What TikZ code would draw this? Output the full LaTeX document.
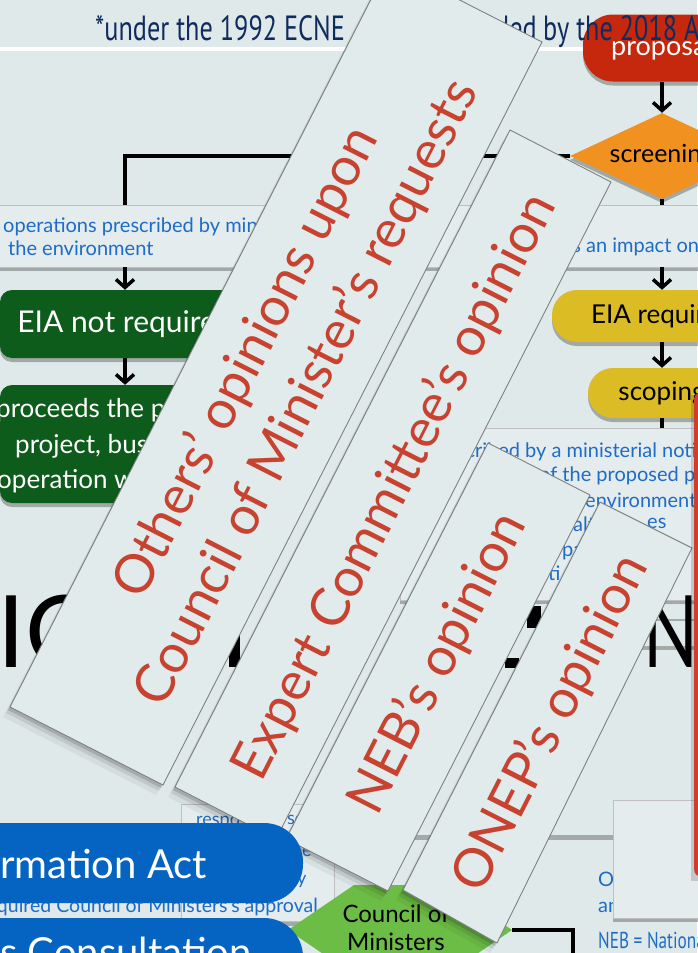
\documentclass[tikz,border=0pt]{standalone}
\usepackage{fontspec}
\setmainfont{Lato}
\newfontfamily\condfont[FakeStretch=0.75]{PT Sans}
\usetikzlibrary{arrows.meta,shapes.geometric,shadows}
\definecolor{bgc}{RGB}{224,233,234}
\definecolor{cardc}{RGB}{226,235,236}
\definecolor{cardedge}{RGB}{125,130,130}
\definecolor{cardtxt}{RGB}{200,66,48}
\definecolor{navy}{RGB}{16,44,94}
\definecolor{propred}{RGB}{197,40,12}
\definecolor{scrorange}{RGB}{241,145,32}
\definecolor{dkgreen}{RGB}{14,92,28}
\definecolor{yel}{RGB}{219,188,36}
\definecolor{bluetxt}{RGB}{30,108,198}
\definecolor{pillblue}{RGB}{5,99,193}
\definecolor{hexgreen}{RGB}{108,189,69}
\definecolor{redbar}{RGB}{205,62,44}
\definecolor{boxc}{RGB}{228,236,237}
\definecolor{grayline}{RGB}{165,170,169}
\newcommand{\drawcard}[4]{%
  \foreach \dx/\dy/\op in {-2/3/0.14,-4/6/0.09,-7/10/0.05}{%
    \fill[black,opacity=\op,shift={(\dx,\dy)}] #1 -- #2 -- #3 -- #4 -- cycle;}
  \path[cardfill] #1 -- #2 -- #3 -- #4 -- cycle;}
\begin{document}
\begin{tikzpicture}[x=1pt,y=-1pt,
  myshadow/.style={drop shadow={shadow xshift=0pt,shadow yshift=-4pt,opacity=0.28,fill=black}},
  arr/.style={line width=3.5pt,-{Straight Barb[length=8pt,width=18pt,line width=3.5pt]}},
  conn/.style={line width=4pt},
  cardfill/.style={fill=cardc,draw=cardedge,line width=0.9pt,line join=round},
  cardtext/.style={text=cardtxt,font=\fontsize{53.5}{68}\selectfont,rotate=63,align=center,inner sep=0pt},
  bluetext/.style={text=bluetxt,font=\fontsize{20}{25}\selectfont,inner sep=0pt,anchor=base west},
  txtbox/.style={fill=boxc,draw=black!25,line width=0.6pt,myshadow},
  gbox/.style={fill=dkgreen,rounded corners=12pt,text=white,inner sep=0pt,myshadow},
  ybox/.style={fill=yel,rounded corners=25pt,text=black,inner sep=0pt,font=\fontsize{26}{26}\selectfont,myshadow},
  gtext/.style={text=white,font=\fontsize{26}{26}\selectfont,inner sep=0pt,anchor=base west},
  pill/.style={fill=pillblue,rounded corners=39pt,inner sep=0pt},
  pilltext/.style={text=white,font=\fontsize{40}{40}\selectfont,inner sep=0pt,anchor=base west},
  bigtext/.style={text=black,font=\fontsize{100}{100}\selectfont,inner sep=0pt,anchor=base west},
  titletext/.style={text=navy,font=\condfont\fontsize{35}{35}\selectfont,inner sep=0pt}
]
% background
\fill[bgc] (0,0) rectangle (697,953);
\useasboundingbox (0,0) rectangle (697,953);

% white rule under the title
\draw[white,line width=4.5pt] (-5,49) coordinate (ruleL) -- (600,49) coordinate (ruleR);

% proposal box
\node[fill=propred,rounded corners=30pt,minimum width=158pt,minimum height=67pt,
      text=white,font=\fontsize{27}{27}\selectfont,inner sep=0pt,myshadow] (proposal) at (662,48) {proposal};

% title
\node[titletext,anchor=base west] (title1) at (95,40) {*under the 1992 ECNE};
\node[titletext,anchor=base east] (title2) at (537,40) {amended};
\node[titletext,anchor=base west] (title3) at (543,40) {by the 2018 Act};

% first row of text boxes
\node[txtbox,minimum width=710pt,minimum height=62pt] (row1) at (350,236) {};
\node[bluetext] (r1a) at (3,232) {operations prescribed by ministerial notification};
\node[bluetext] (r1b) at (8,255) {the environment};
\node[bluetext] (r1c) at (551,252) {has an impact on the environment};

% screening diamond
\node[diamond,aspect=2.14,fill=scrorange,minimum width=184pt,minimum height=86pt,inner sep=0pt,
      font=\fontsize{25}{25}\selectfont,myshadow] (screen) at (662,156) {screening};
\coordinate (lcorner) at (125,156);
\draw[conn] (screen.west) -- (lcorner) -- (lcorner |- row1.north);
\draw[conn] (screen.south) -- (screen.south |- row1.north);
\draw[arr] (proposal.south) -- (screen.north);

% left column
\node[gbox,minimum width=250pt,minimum height=68pt,font=\fontsize{30}{30}\selectfont] (eianot) at (125,324) {EIA not required};
\node[gbox,minimum width=250pt,minimum height=118pt] (proceed) at (125,444) {};
\node[gtext] (pr1) at (-4,417) {proceeds the proposed};
\node[gtext] (pr2) at (15,453) {project, business or};
\node[gtext] (pr3) at (-3,488) {operation with};
\draw[arr] (row1.south -| eianot.north) -- (eianot.north);
\draw[arr] (eianot.south) -- (proceed.north);

% right column
\node[ybox,minimum width=220pt,minimum height=52pt] (eiareq) at (662,316) {EIA required};
\node[ybox,minimum width=148pt,minimum height=50pt] (scoping) at (662,393) {scoping};
\draw[arr] (row1.south -| eiareq.north) -- (eiareq.north);
\draw[arr] (eiareq.south) -- (scoping.north);
\node[txtbox,minimum width=320pt,minimum height=172pt] (row2) at (560,514) {};
\draw[conn] (scoping.south) -- (scoping.south |- row2.north);
\node[bluetext] (r2a) at (428,457) {prescribed by a ministerial notification};
\node[bluetext] (r2b) at (539,481) {of the proposed project};
\node[bluetext] (r2c) at (585,507) {environmental};
\node[bluetext] (r2d) at (573,531) {alt};
\node[bluetext] (r2e) at (647,528) {es};
\node[bluetext] (r2f) at (562,556) {pa};
\node[bluetext] (r2g) at (548,580) {ti};

% big slide heading fragments and grey rules
\draw[grayline,line width=2pt] (640,620) -- (697,620);
\draw[grayline,line width=4pt] (600,648) -- (697,648);
\draw[grayline,line width=5pt] (300,837) -- (613,837);
\node[bigtext] (bigIO) at (-3,667) {IO};
\node[bigtext] (bigN) at (643,667) {\scalebox{0.72}[1]{N}};
\fill[black] (229,596) rectangle (240,667);
\fill[black] (527,606) rectangle (541,628);
\fill[black] (505,658) rectangle (519,668);

% lower left text box
\node[txtbox,minimum width=153pt,minimum height=117pt] (respbox) at (258,863) {};
\node[bluetext,font=\fontsize{18}{18}\selectfont] (rb1) at (196,825) {respo};
\node[bluetext,font=\fontsize{18}{18}\selectfont] (rb2) at (287,824) {se};
\node[bluetext,font=\fontsize{18}{18}\selectfont] (rb3) at (302,856) {e};
\node[bluetext,font=\fontsize{18}{18}\selectfont] (rb4) at (297,884) {y};
\node[bluetext,anchor=base east,font=\fontsize{19.5}{20}\selectfont] (rb5) at (318,912) {required Council of Ministers's approval};

% Council of Ministers hexagon and its connector
\coordinate (hexL) at (288,930);
\coordinate (hexR) at (512,930);
\path[fill=hexgreen] (hexL) -- (354,885) -- (446,885) -- (hexR) -- (446,975) -- (354,975) -- cycle;
\node[font=\fontsize{24}{28}\selectfont,align=center,inner sep=0pt] (council) at (396,928) {Council of\\Ministers};
\coordinate (blkCorner) at (573,930);
\coordinate (blkEnd) at (573,970);
\draw[conn] (hexR) -- (blkCorner) -- (blkEnd);

% legend text and box
\node[bluetext] (lg1) at (598,886) {ONEP = Office of Natural Resources};
\node[bluetext] (lg2) at (598,912) {and Environmental Policy and Planning};
\node[bluetext,font=\condfont\fontsize{23}{23}\selectfont] (lg3) at (598,948) {NEB = National Environment Board};
\node[txtbox,minimum width=110pt,minimum height=118pt] (legendbox) at (668,859) {};

% cards
\drawcard{(389,-36)}{(542,42)}{(163,785)}{(10,707)}
\node[cardtext] (othersop) at (277,378) {Others' opinions upon\\Council of Minister's requests};
\drawcard{(510,130)}{(611,182)}{(276,839)}{(175,787)}
\node[cardtext] (expertop) at (395,487) {Expert Committee's opinion};
\drawcard{(488,443)}{(590,495)}{(388,891)}{(286,839)}
\node[cardtext] (nebop) at (438,664) {NEB's opinion};
\drawcard{(600,502)}{(692,548)}{(497,943)}{(403,890)}
\node[cardtext] (onepop) at (551,724) {ONEP's opinion};

% red bar at the right edge
\fill[black,opacity=0.15] (691,395) rectangle (700,881);
\path[fill=redbar,rounded corners=8pt] (694,392) rectangle (740,877);

% blue pills on top
\node[pill,minimum width=343pt,minimum height=80pt] (pill1) at (131.5,863) {};
\node[pilltext] (pt1) at (0,878) {rmation Act};
\node[pill,minimum width=343pt,minimum height=80pt] (pill2) at (131.5,958) {};
\node[pilltext] (pt2) at (0,966) {s Consultation};
\end{tikzpicture}
\end{document}
